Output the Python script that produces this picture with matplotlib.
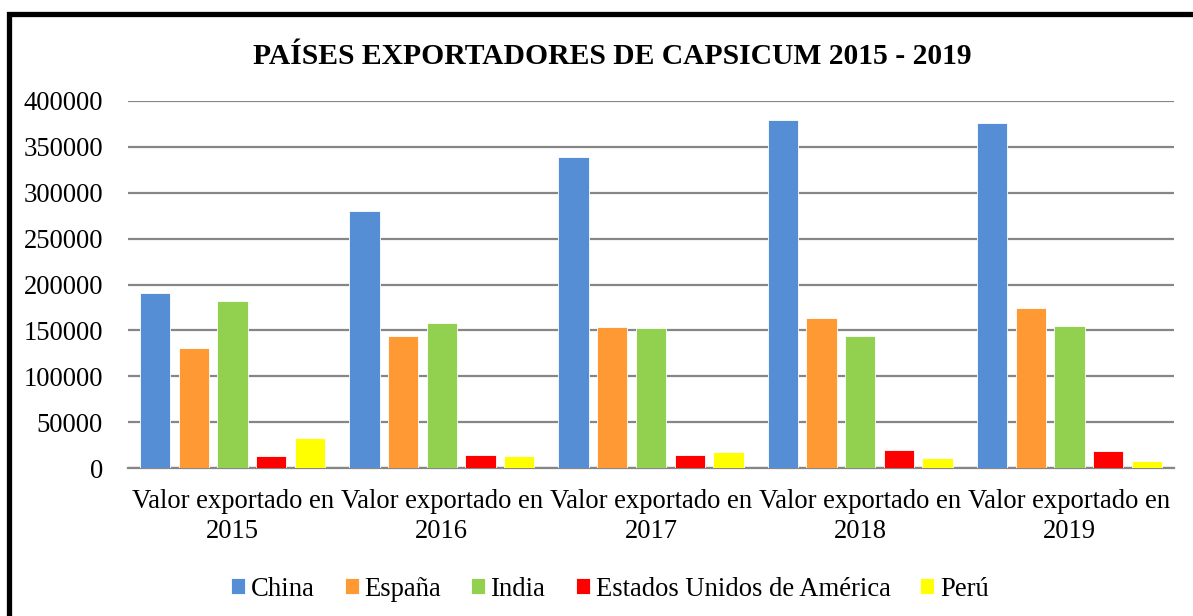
import matplotlib
matplotlib.use("Agg")
import matplotlib.pyplot as plt
import numpy as np
from matplotlib.patches import Rectangle

categories = ["Valor exportado en\n2015", "Valor exportado en\n2016", "Valor exportado en\n2017",
              "Valor exportado en\n2018", "Valor exportado en\n2019"]
series_names = ["China", "España", "India", "Estados Unidos de América", "Perú"]
china = [190400, 280300, 338400, 379300, 375400]
espana = [130600, 143600, 153400, 163200, 174400]
india = [182000, 158100, 153100, 144300, 154500]
usa = [13700, 14500, 14500, 19600, 18800]
peru = [32600, 13700, 17400, 11200, 8300]
colors = ["#558ED5", "#FF9933", "#92D050", "#FF0000", "#FFFF00"]
yticks = [0, 50000, 100000, 150000, 200000, 250000, 300000, 350000, 400000]

plt.rcParams['font.family'] = ['Liberation Serif', 'DejaVu Serif']

W, H = 1193, 616
fig = plt.figure(figsize=(W/100, H/100), dpi=100)
ax = fig.add_axes([128/W, 1-468.3/H, (1174-128)/W, (468.3-100.7)/H])

data = [china, espana, india, usa, peru]
x = np.arange(len(categories))
pitch = 0.185
bw = 0.145
for i, (vals, name, c) in enumerate(zip(data, series_names, colors)):
    ax.bar(x + (i-2)*pitch, vals, width=bw, color=c, edgecolor="white", linewidth=0.6,
           label=name, zorder=3)

ax.set_xlim(-0.5, len(categories)-0.5)
ax.set_ylim(0, 400000)
ax.set_yticks(yticks)
ax.set_yticklabels([str(v) for v in yticks], fontsize=19.2)
ax.set_xticks(x)
ax.set_xticklabels(categories, fontsize=19.2, linespacing=1.25)
ax.tick_params(axis='both', length=0)
ax.tick_params(axis='y', pad=18)
ax.tick_params(axis='x', pad=15)
ax.grid(axis='y', color='#868686', linewidth=1.6, zorder=0)
for s in ['top', 'right', 'left']:
    ax.spines[s].set_visible(False)
ax.spines['bottom'].set_color('#868686')
ax.spines['bottom'].set_linewidth(1.6)

fig.text(612/W, 1-56/H, "PAÍSES EXPORTADORES DE CAPSICUM 2015 - 2019", ha='center', va='center',
         fontsize=21.3, fontweight='bold')

leg = fig.legend(loc='center', bbox_to_anchor=(610/W, 1-589/H), ncol=5, frameon=False,
                 fontsize=19.2, handlelength=0.525, handleheight=0.525, handletextpad=0.22,
                 columnspacing=1.12, borderpad=0, borderaxespad=0)

fig.patches.append(Rectangle((8.5/W, -0.1), 1.2, (1-13.5/H)+0.1, transform=fig.transFigure,
                             fill=False, edgecolor='black', linewidth=3.8, zorder=10))

fig.savefig("out.png", dpi=100)
